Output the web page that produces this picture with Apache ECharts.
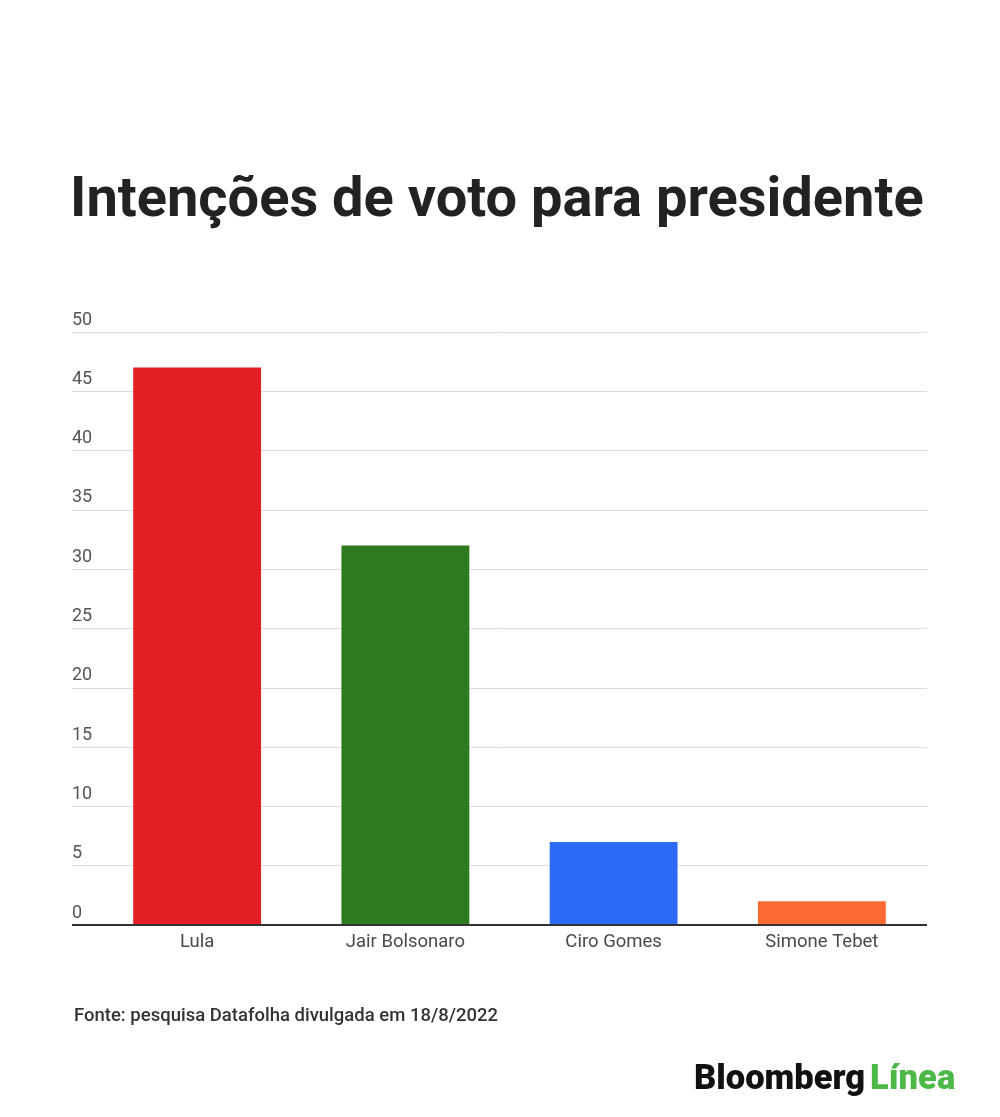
<!DOCTYPE html>
<html>
<head>
<meta charset="utf-8">
<style>
  html, body { margin: 0; padding: 0; background: #fff; }
  #chart { width: 1000px; height: 1117px; }
</style>
<script src="https://cdn.jsdelivr.net/npm/echarts@6/dist/echarts.min.js"></script>
</head>
<body>
<div id="chart"></div>
<script>
// dados da pesquisa
var candidatos = ['Lula', 'Jair Bolsonaro', 'Ciro Gomes', 'Simone Tebet'];
var votos = [47, 32, 7, 2];
var cores = ['#e31f26', '#2e7a1f', '#2d6bf6', '#ff6a33'];
var eixoMin = 0, eixoMax = 50, eixoPasso = 5;

var myChart = echarts.init(document.getElementById('chart'));

var option = {
  backgroundColor: '#fff',
  animation: false,
  title: [
    {
      text: 'Intenções de voto para presidente',
      left: 70,
      top: 174,
      padding: 0,
      textStyle: { fontFamily: 'Roboto', fontWeight: 'bold', fontSize: 56, color: '#222' }
    },
    {
      text: 'Fonte: pesquisa Datafolha divulgada em 18/8/2022',
      left: 74,
      top: 1007,
      padding: 0,
      textStyle: { fontFamily: 'Roboto', fontWeight: 500, fontSize: 18.5, color: '#333' }
    },
    {
      text: '{b|Bloomberg} {g|Línea}',
      left: 694,
      top: 1063,
      padding: 0,
      textStyle: {
        rich: {
          b: { fontFamily: 'Roboto', fontWeight: 900, fontSize: 34.5, color: '#111' },
          g: { fontFamily: 'Roboto', fontWeight: 900, fontSize: 34.5, color: '#4cb848' }
        }
      }
    }
  ],
  grid: [
    { left: 72, right: 73, top: 332, bottom: 192 },   // linhas de grade
    { left: 93, right: 74, top: 332, bottom: 192 }    // barras
  ],
  xAxis: [
    {
      gridIndex: 0, type: 'value', min: 0, max: 1,
      axisLine: { show: false }, axisTick: { show: false },
      axisLabel: { show: false }, splitLine: { show: false }
    },
    {
      gridIndex: 1, type: 'category', data: candidatos,
      axisLine: { show: false }, axisTick: { show: false },
      axisLabel: { fontFamily: 'Roboto', fontSize: 18.5, color: '#4a4a4a', margin: 8 }
    }
  ],
  yAxis: [
    {
      gridIndex: 0, type: 'value', min: eixoMin, max: eixoMax, interval: eixoPasso,
      axisLine: { show: false }, axisTick: { show: false },
      axisLabel: {
        align: 'left', verticalAlign: 'bottom', margin: 0, padding: [0, 0, 3, 0],
        fontFamily: 'Roboto', fontSize: 18, color: '#555'
      },
      splitLine: { lineStyle: { color: '#dcdcdc', width: 1 } }
    },
    {
      gridIndex: 1, type: 'value', min: eixoMin, max: eixoMax, interval: eixoPasso,
      axisLine: { show: false }, axisTick: { show: false },
      axisLabel: { show: false }, splitLine: { show: false }
    }
  ],
  series: [
    {
      type: 'bar',
      xAxisIndex: 1, yAxisIndex: 1,
      barCategoryGap: '38.6%',
      data: votos.map(function (v, i) {
        return { value: v, itemStyle: { color: cores[i] } };
      })
    },
    {
      // linha do eixo zero
      type: 'line',
      xAxisIndex: 0, yAxisIndex: 0,
      data: [[0, 0], [1, 0]],
      symbol: 'none',
      lineStyle: { color: '#333', width: 2 },
      z: 5
    }
  ]
};

myChart.setOption(option);
</script>
</body>
</html>
